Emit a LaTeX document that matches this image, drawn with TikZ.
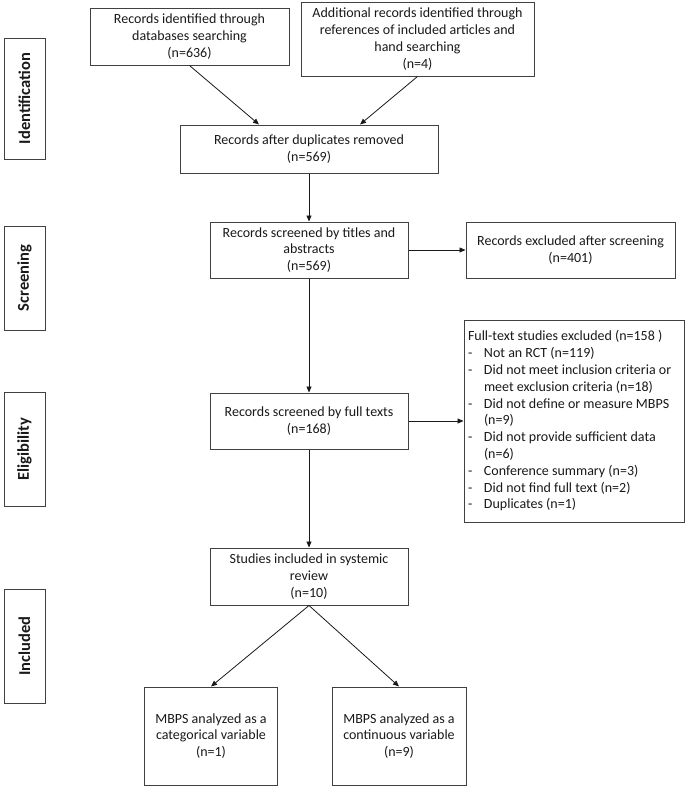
\documentclass[tikz,border=0pt]{standalone}
\usepackage{fontspec}
\setmainfont{Carlito}
\usepackage{tikz}
\usetikzlibrary{calc}
\usetikzlibrary{arrows.meta}

\newcommand{\exitem}[1]{\makebox[16pt][l]{-}#1}
\newcommand{\exmore}[1]{\hspace*{16pt}#1}

\begin{document}
\begin{tikzpicture}[x=1pt,y=-1pt,
        recbox/.style={draw=black!75,line width=1pt,inner sep=0pt,align=center,
            font=\fontsize{14}{16.8}\selectfont,text=black!90},
        phasebox/.style={draw=black!75,line width=1pt,inner sep=0pt,rotate=90,
            minimum height=41pt,font=\fontsize{16.5}{18}\selectfont\bfseries,text=black!90},
        flow/.style={draw=black!90,line width=0.8pt,-{Triangle[length=6pt,width=5pt]}}]
            \useasboundingbox (0,0) rectangle (685,788);
            \node[phasebox,minimum width=121pt] (ident) at (24.5,98.5) {Identification};
            \node[phasebox,minimum width=104pt] (screen) at (24.5,278) {Screening};
            \node[phasebox,minimum width=114pt] (elig) at (24.5,449) {Eligibility};
            \node[phasebox,minimum width=114pt] (incl) at (24.5,646) {Included};
            \node[recbox,minimum width=199pt,minimum height=57pt] (dbrec) at (189.5,36.5)
                {Records identified through\\databases searching\\(n=636)};
            \node[recbox,minimum width=233pt,minimum height=74pt] (addrec) at (417.5,39)
                {Additional records identified through\\references of included articles and\\hand searching\\(n=4)};
            \node[recbox,minimum width=258pt,minimum height=48pt] (dedup) at (309,149)
                {Records after duplicates removed\\(n=569)};
            \node[recbox,minimum width=198pt,minimum height=56pt] (titles) at (309,250)
                {Records screened by titles and\\abstracts\\(n=569)};
            \node[recbox,minimum width=209pt,minimum height=56pt] (scrout) at (570.5,250)
                {Records excluded after screening\\(n=401)};
            \node[recbox,minimum width=198pt,minimum height=56pt] (fulltxt) at (309,421)
                {Records screened by full texts\\(n=168)};
            \node[recbox,minimum width=220pt,minimum height=202pt,text width=212pt,align=flush left] (ftout) at (574,421)
                {Full-text studies excluded (n=158 )\\
                \exitem{Not an RCT (n=119)}\\
                \exitem{Did not meet inclusion criteria or}\\
                \exmore{meet exclusion criteria (n=18)}\\
                \exitem{Did not define or measure MBPS}\\
                \exmore{(n=9)}\\
                \exitem{Did not provide sufficient data}\\
                \exmore{(n=6)}\\
                \exitem{Conference summary (n=3)}\\
                \exitem{Did not find full text (n=2)}\\
                \exitem{Duplicates (n=1)}};
            \node[recbox,minimum width=198pt,minimum height=57pt] (review) at (309,576.5)
                {Studies included in systemic\\review\\(n=10)};
            \node[recbox,minimum width=133pt,minimum height=98pt] (categ) at (211,736)
                {MBPS analyzed as a\\categorical variable\\(n=1)};
            \node[recbox,minimum width=134pt,minimum height=98pt] (contin) at (399,736)
                {MBPS analyzed as a\\continuous variable\\(n=9)};
            \draw[flow] (dbrec.south) -- ($(dedup.north)+(-50,0)$);
            \draw[flow] (addrec.south) -- ($(dedup.north)+(51,0)$);
            \draw[flow] (dedup) -- (titles);
            \draw[flow] (titles) -- (scrout);
            \draw[flow] (titles) -- (fulltxt);
            \draw[flow] (fulltxt) -- (ftout);
            \draw[flow] (fulltxt) -- (review);
            \draw[flow] (review.south) -- (categ.north);
            \draw[flow] (review.south) -- (contin.north);
        \end{tikzpicture}
\end{document}
